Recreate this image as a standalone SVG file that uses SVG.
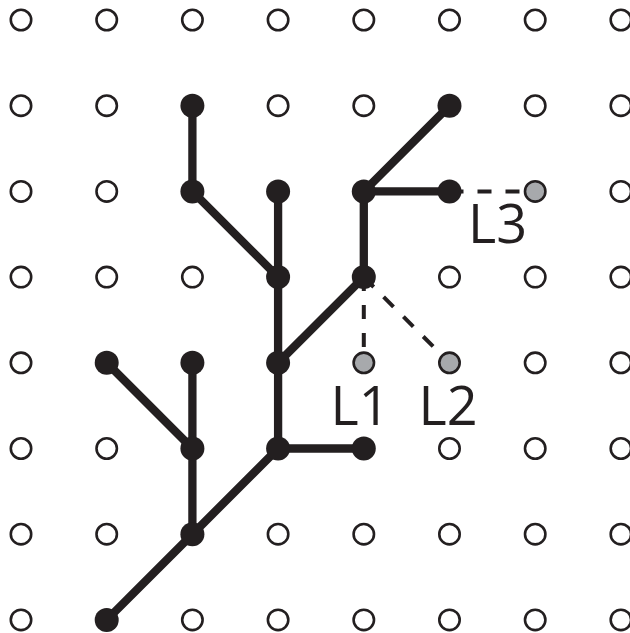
<svg xmlns="http://www.w3.org/2000/svg" width="630" height="633" viewBox="0 0 630 633">
  <style>
    .pin { fill: #ffffff; stroke: #231f20; stroke-width: 2.6; }
    .node { fill: #231f20; }
    .leaf { fill: #a7a9ac; stroke: #231f20; stroke-width: 2.6; }
    .edge { stroke: #231f20; stroke-width: 8.3; stroke-linecap: round; fill: none; }
    .link { stroke: #231f20; stroke-width: 4; stroke-dasharray: 14 14; fill: none; }
    .label { font-family: "Open Sans", "Liberation Sans", sans-serif; font-size: 54px; fill: #231f20; text-anchor: middle; }
  </style>
  <rect width="630" height="633" fill="#ffffff"/>

  <!-- empty pegboard points -->
  <g id="grid">
    <circle class="pin" cx="21" cy="20" r="10.2"/><circle class="pin" cx="106.7" cy="20" r="10.2"/><circle class="pin" cx="192.4" cy="20" r="10.2"/><circle class="pin" cx="278.1" cy="20" r="10.2"/><circle class="pin" cx="363.8" cy="20" r="10.2"/><circle class="pin" cx="449.5" cy="20" r="10.2"/><circle class="pin" cx="535.2" cy="20" r="10.2"/><circle class="pin" cx="620.9" cy="20" r="10.2"/>
    <circle class="pin" cx="21" cy="105.7" r="10.2"/><circle class="pin" cx="106.7" cy="105.7" r="10.2"/><circle class="pin" cx="278.1" cy="105.7" r="10.2"/><circle class="pin" cx="363.8" cy="105.7" r="10.2"/><circle class="pin" cx="535.2" cy="105.7" r="10.2"/><circle class="pin" cx="620.9" cy="105.7" r="10.2"/>
    <circle class="pin" cx="21" cy="191.4" r="10.2"/><circle class="pin" cx="106.7" cy="191.4" r="10.2"/><circle class="pin" cx="620.9" cy="191.4" r="10.2"/>
    <circle class="pin" cx="21" cy="277.1" r="10.2"/><circle class="pin" cx="106.7" cy="277.1" r="10.2"/><circle class="pin" cx="192.4" cy="277.1" r="10.2"/><circle class="pin" cx="449.5" cy="277.1" r="10.2"/><circle class="pin" cx="535.2" cy="277.1" r="10.2"/><circle class="pin" cx="620.9" cy="277.1" r="10.2"/>
    <circle class="pin" cx="21" cy="362.8" r="10.2"/><circle class="pin" cx="535.2" cy="362.8" r="10.2"/><circle class="pin" cx="620.9" cy="362.8" r="10.2"/>
    <circle class="pin" cx="21" cy="448.5" r="10.2"/><circle class="pin" cx="106.7" cy="448.5" r="10.2"/><circle class="pin" cx="449.5" cy="448.5" r="10.2"/><circle class="pin" cx="535.2" cy="448.5" r="10.2"/><circle class="pin" cx="620.9" cy="448.5" r="10.2"/>
    <circle class="pin" cx="21" cy="534.2" r="10.2"/><circle class="pin" cx="106.7" cy="534.2" r="10.2"/><circle class="pin" cx="278.1" cy="534.2" r="10.2"/><circle class="pin" cx="363.8" cy="534.2" r="10.2"/><circle class="pin" cx="449.5" cy="534.2" r="10.2"/><circle class="pin" cx="535.2" cy="534.2" r="10.2"/><circle class="pin" cx="620.9" cy="534.2" r="10.2"/>
    <circle class="pin" cx="21" cy="619.9" r="10.2"/><circle class="pin" cx="192.4" cy="619.9" r="10.2"/><circle class="pin" cx="278.1" cy="619.9" r="10.2"/><circle class="pin" cx="363.8" cy="619.9" r="10.2"/><circle class="pin" cx="449.5" cy="619.9" r="10.2"/><circle class="pin" cx="535.2" cy="619.9" r="10.2"/><circle class="pin" cx="620.9" cy="619.9" r="10.2"/>
  </g>

  <!-- tree branches and candidate links -->
  <g id="connectors">
    <line class="edge" x1="106.7" y1="619.9" x2="192.4" y2="534.2"/>
    <line class="edge" x1="192.4" y1="534.2" x2="278.1" y2="448.5"/>
    <line class="edge" x1="192.4" y1="534.2" x2="192.4" y2="448.5"/>
    <line class="edge" x1="192.4" y1="448.5" x2="192.4" y2="362.8"/>
    <line class="edge" x1="192.4" y1="448.5" x2="106.7" y2="362.8"/>
    <line class="edge" x1="278.1" y1="448.5" x2="363.8" y2="448.5"/>
    <line class="edge" x1="278.1" y1="448.5" x2="278.1" y2="362.8"/>
    <line class="edge" x1="278.1" y1="362.8" x2="278.1" y2="277.1"/>
    <line class="edge" x1="278.1" y1="277.1" x2="278.1" y2="191.4"/>
    <line class="edge" x1="278.1" y1="277.1" x2="192.4" y2="191.4"/>
    <line class="edge" x1="192.4" y1="191.4" x2="192.4" y2="105.7"/>
    <line class="edge" x1="278.1" y1="362.8" x2="363.8" y2="277.1"/>
    <line class="edge" x1="363.8" y1="277.1" x2="363.8" y2="191.4"/>
    <line class="edge" x1="363.8" y1="191.4" x2="449.5" y2="191.4"/>
    <line class="edge" x1="363.8" y1="191.4" x2="449.5" y2="105.7"/>
    <line class="link" x1="363.8" y1="277.1" x2="363.8" y2="362.8"/>
    <line class="link" x1="363.8" y1="277.1" x2="449.5" y2="362.8"/>
    <line class="link" x1="449.5" y1="191.4" x2="535.2" y2="191.4"/>
  </g>

  <!-- tree nodes -->
  <g id="n-1-7"><circle class="node" cx="106.7" cy="619.9" r="12"/></g>
  <g id="n-2-6"><circle class="node" cx="192.4" cy="534.2" r="12"/></g>
  <g id="n-2-5"><circle class="node" cx="192.4" cy="448.5" r="12"/></g>
  <g id="n-2-4"><circle class="node" cx="192.4" cy="362.8" r="12"/></g>
  <g id="n-1-4"><circle class="node" cx="106.7" cy="362.8" r="12"/></g>
  <g id="n-3-5"><circle class="node" cx="278.1" cy="448.5" r="12"/></g>
  <g id="n-4-5"><circle class="node" cx="363.8" cy="448.5" r="12"/></g>
  <g id="n-3-4"><circle class="node" cx="278.1" cy="362.8" r="12"/></g>
  <g id="n-3-3"><circle class="node" cx="278.1" cy="277.1" r="12"/></g>
  <g id="n-3-2"><circle class="node" cx="278.1" cy="191.4" r="12"/></g>
  <g id="n-2-2"><circle class="node" cx="192.4" cy="191.4" r="12"/></g>
  <g id="n-2-1"><circle class="node" cx="192.4" cy="105.7" r="12"/></g>
  <g id="n-4-3"><circle class="node" cx="363.8" cy="277.1" r="12"/></g>
  <g id="n-4-2"><circle class="node" cx="363.8" cy="191.4" r="12"/></g>
  <g id="n-5-2"><circle class="node" cx="449.5" cy="191.4" r="12"/></g>
  <g id="n-5-1"><circle class="node" cx="449.5" cy="105.7" r="12"/></g>

  <!-- candidate leaves -->
  <g id="L1">
    <circle class="leaf" cx="363.8" cy="362.8" r="10.2"/>
    <text class="label" x="360" y="425">L1</text>
  </g>
  <g id="L2">
    <circle class="leaf" cx="449.5" cy="362.8" r="10.2"/>
    <text class="label" x="448" y="425">L2</text>
  </g>
  <g id="L3">
    <circle class="leaf" cx="535.2" cy="191.4" r="10.2"/>
    <text class="label" x="497.5" y="243">L3</text>
  </g>
</svg>
